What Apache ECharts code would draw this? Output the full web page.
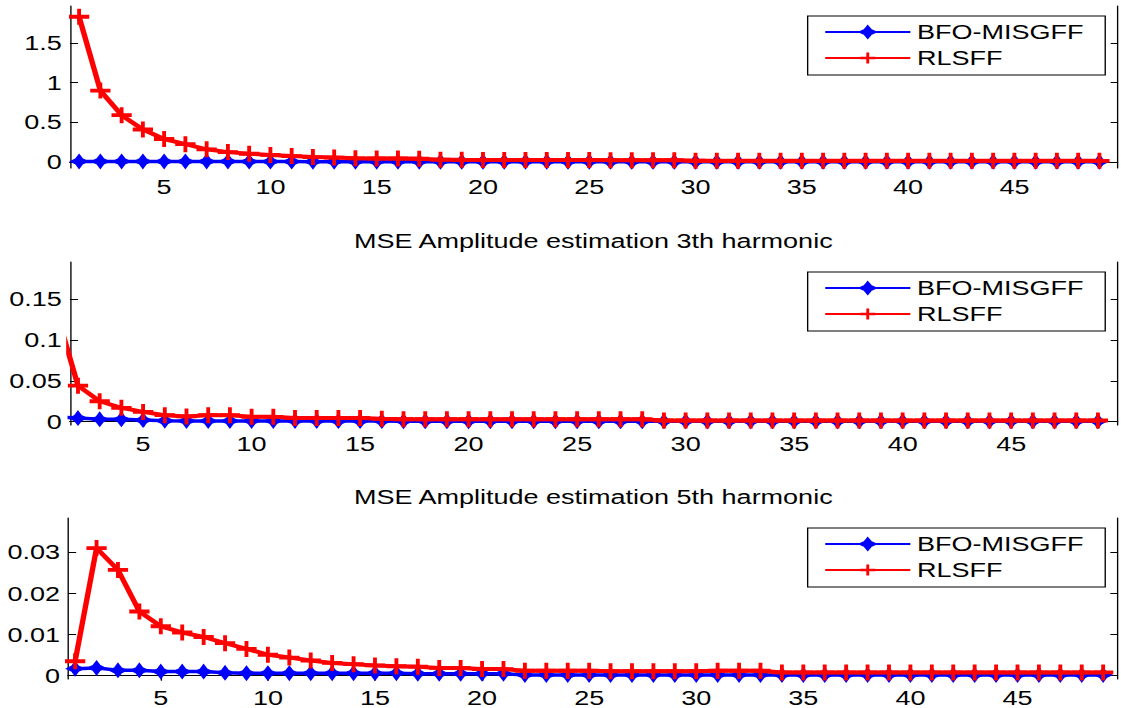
<!DOCTYPE html>
<html>
<head>
<meta charset="utf-8">
<script src="https://cdn.jsdelivr.net/npm/echarts@6/dist/echarts.min.js"></script>
<style>
  html, body { margin: 0; padding: 0; background: #fff; overflow: hidden; }
  /* The figure is laid out on a narrower canvas and stretched horizontally,
     as the exported figure is wider than it was drawn. */
  #chart { width: 830px; height: 708px; transform: scaleX(1.3506); transform-origin: 0 0; }
</style>
</head>
<body>
<div id="chart"></div>
<script>
// Iteration index of each estimate
const iterations = [1, 2, 3, 4, 5, 6, 7, 8, 9, 10, 11, 12, 13, 14, 15, 16, 17, 18, 19, 20,
  21, 22, 23, 24, 25, 26, 27, 28, 29, 30, 31, 32, 33, 34, 35, 36, 37, 38, 39, 40,
  41, 42, 43, 44, 45, 46, 47, 48, 49];

const seriesNames = ['BFO-MISGFF', 'RLSFF'];
const panelTitles = ['', 'MSE Amplitude estimation 3th harmonic', 'MSE Amplitude estimation 5th harmonic'];

// Fundamental
const fundBFO = [0.008, 0.008, 0.008, 0.008, 0.008, 0.007, 0.007, 0.007, 0.006, 0.006,
  0.006, 0.005, 0.005, 0.005, 0.005, 0.004, 0.004, 0.004, 0.004, 0.004,
  0.004, 0.004, 0.004, 0.004, 0.004, 0.003, 0.003, 0.003, 0.003, 0.003,
  0.003, 0.003, 0.003, 0.003, 0.003, 0.003, 0.003, 0.003, 0.003, 0.003,
  0.003, 0.003, 0.003, 0.003, 0.003, 0.003, 0.003, 0.003, 0.003];
const fundRLS = [1.83, 0.90, 0.59, 0.41, 0.29, 0.225, 0.16, 0.125, 0.105, 0.09,
  0.075, 0.062, 0.056, 0.047, 0.045, 0.045, 0.042, 0.03, 0.028, 0.027,
  0.026, 0.026, 0.025, 0.025, 0.025, 0.024, 0.024, 0.024, 0.024, 0.016,
  0.015, 0.015, 0.015, 0.015, 0.015, 0.015, 0.015, 0.015, 0.015, 0.015,
  0.015, 0.015, 0.015, 0.015, 0.015, 0.015, 0.015, 0.015, 0.015];

// 3rd harmonic
const h3BFO = [0.006, 0.0045, 0.003, 0.003, 0.002, 0.0012, 0.001, 0.001, 0.001, 0.001,
  0.001, 0.0009, 0.0009, 0.0008, 0.0008, 0.0008, 0.0007, 0.0007, 0.0007, 0.0007,
  0.0006, 0.0006, 0.0006, 0.0006, 0.0006, 0.0005, 0.0005, 0.0005, 0.0005, 0.0005,
  0.0005, 0.0005, 0.0005, 0.0005, 0.0005, 0.0005, 0.0005, 0.0005, 0.0005, 0.0005,
  0.0005, 0.0005, 0.0005, 0.0005, 0.0005, 0.0005, 0.0005, 0.0005, 0.0005];
const h3RLS = [0.135, 0.044, 0.025, 0.017, 0.012, 0.008, 0.0065, 0.008, 0.008, 0.006,
  0.006, 0.0045, 0.0045, 0.0045, 0.0045, 0.0035, 0.003, 0.003, 0.003, 0.003,
  0.003, 0.003, 0.003, 0.003, 0.003, 0.003, 0.003, 0.003, 0.0015, 0.0015,
  0.0015, 0.0015, 0.0015, 0.0015, 0.0015, 0.0015, 0.0015, 0.0015, 0.0015, 0.0015,
  0.0015, 0.0015, 0.0015, 0.0015, 0.0015, 0.0015, 0.0015, 0.0015, 0.0015];

// 5th harmonic
const h5BFO = [0.0017, 0.0019, 0.0013, 0.0013, 0.001, 0.001, 0.001, 0.0007, 0.0006, 0.0006,
  0.0006, 0.0006, 0.0006, 0.0006, 0.0006, 0.0006, 0.0005, 0.0005, 0.0005, 0.0005,
  0.0005, 0.0002, 0.0002, 0.0002, 0.0002, 0.0002, 0.0002, 0.0002, 0.0002, 0.0002,
  0.0002, 0.0002, 0.0002, 0.0002, 0.0002, 0.0002, 0.0002, 0.0002, 0.0002, 0.0002,
  0.0002, 0.0002, 0.0002, 0.0002, 0.0002, 0.0002, 0.0002, 0.0002, 0.0002];
const h5RLS = [0.0035, 0.031, 0.0257, 0.0156, 0.012, 0.0105, 0.0094, 0.0079, 0.0065, 0.0051,
  0.0044, 0.0037, 0.0031, 0.0028, 0.0025, 0.0023, 0.0022, 0.0019, 0.0019, 0.0016,
  0.0016, 0.0012, 0.0012, 0.0012, 0.0012, 0.0011, 0.0011, 0.0011, 0.0011, 0.0011,
  0.0012, 0.0012, 0.0012, 0.0008, 0.0008, 0.0008, 0.0008, 0.0008, 0.0008, 0.0008,
  0.0008, 0.0008, 0.0008, 0.0008, 0.0008, 0.0008, 0.0008, 0.0008, 0.0008];

// Tick labels
const xTicks = [5, 10, 15, 20, 25, 30, 35, 40, 45];
const yTicksFund = [0, 0.5, 1, 1.5];
const yTicksH3 = [0, 0.05, 0.1, 0.15];
const yTicksH5 = [0, 0.01, 0.02, 0.03];

// Axis limits of each panel
const xLimits = [[0.57, 49.85], [1.63, 49.9], [0.67, 49.65]];
const yLimits = [[-0.075, 1.965], [-0.004, 0.195], [-0.0008, 0.0383]];

const panelData = [[fundBFO, fundRLS], [h3BFO, h3RLS], [h5BFO, h5RLS]];
const panelTicks = [yTicksFund, yTicksH3, yTicksH5];

const FONT = '"Liberation Sans", Arial, sans-serif';
const BLUE = '#0000ff';
const RED = '#ff0000';
// thick "+" marker and filled "*" marker
const PLUS = 'path://M-0.19,-1 L0.19,-1 L0.19,-0.24 L1,-0.24 L1,0.24 L0.19,0.24 L0.19,1 L-0.19,1 L-0.19,0.24 L-1,0.24 L-1,-0.24 L-0.19,-0.24 Z';
const STAR = 'path://M0,-1 L0.38,-0.38 L1,0 L0.38,0.38 L0,1 L-0.38,0.38 L-1,0 L-0.38,-0.38 Z';

const grids = [
  { left: 51.8, right: 2.6, top: 6, height: 162 },
  { left: 51.8, right: 2.6, top: 262, height: 163 },
  { left: 50.4, right: 2.9, top: 518, height: 164 }
];
const legendTops = [16, 272, 528];
const titleTops = [0, 231, 487];

const frameLine = { show: true, lineStyle: { color: '#000', width: 1 } };
const tickStyle = { color: '#000', width: 1 };

const xAxis = [], yAxis = [], series = [], legend = [], title = [];

grids.forEach((g, i) => {
  const [xmin, xmax] = xLimits[i];
  const [ymin, ymax] = yLimits[i];
  // bottom axis with labels
  xAxis.push({
    type: 'value', gridIndex: i, position: 'bottom', min: xmin, max: xmax,
    axisLine: frameLine, splitLine: { show: false },
    axisTick: { show: true, inside: true, length: 5, lineStyle: tickStyle, customValues: xTicks },
    axisLabel: { show: true, customValues: xTicks, color: '#000', fontSize: 20, fontFamily: FONT, margin: 9 }
  });
  // top frame edge
  xAxis.push({
    type: 'value', gridIndex: i, position: 'top', min: xmin, max: xmax,
    axisLine: frameLine, splitLine: { show: false },
    axisTick: { show: true, inside: true, length: 5, lineStyle: tickStyle, customValues: xTicks },
    axisLabel: { show: false }
  });
  // left axis with labels
  yAxis.push({
    type: 'value', gridIndex: i, position: 'left', min: ymin, max: ymax,
    axisLine: frameLine, splitLine: { show: false },
    axisTick: { show: true, inside: true, length: 6, lineStyle: tickStyle, customValues: panelTicks[i] },
    axisLabel: { show: true, customValues: panelTicks[i], color: '#000', fontSize: 20, fontFamily: FONT, margin: 6 }
  });
  // right frame edge
  yAxis.push({
    type: 'value', gridIndex: i, position: 'right', min: ymin, max: ymax,
    axisLine: frameLine, splitLine: { show: false },
    axisTick: { show: true, inside: true, length: 5, lineStyle: tickStyle, customValues: panelTicks[i] },
    axisLabel: { show: false }
  });

  const [bfo, rls] = panelData[i];
  series.push({
    name: seriesNames[0], type: 'line', xAxisIndex: 2 * i, yAxisIndex: 2 * i,
    data: iterations.map((x, k) => [x, bfo[k]]),
    symbol: STAR, symbolSize: [12, 13], showSymbol: true, clip: true,
    lineStyle: { color: BLUE, width: 3.5 },
    itemStyle: { color: BLUE, borderColor: BLUE, borderWidth: 1.5 },
    z: 2
  });
  series.push({
    name: seriesNames[1], type: 'line', xAxisIndex: 2 * i, yAxisIndex: 2 * i,
    data: iterations.map((x, k) => [x, rls[k]]),
    symbol: PLUS, symbolSize: [15, 16], showSymbol: true, clip: true,
    lineStyle: { color: RED, width: 4 },
    itemStyle: { color: RED },
    z: 3
  });

  legend.push({
    data: seriesNames, orient: 'vertical', left: 598, top: legendTops[i],
    backgroundColor: '#fff', borderColor: '#000', borderWidth: 1, borderRadius: 0,
    padding: [6, 16, 7, 12], itemWidth: 63, itemHeight: 14, itemGap: 6,
    selectedMode: false,
    textStyle: { color: '#000', fontSize: 20, fontFamily: FONT, lineHeight: 20 }
  });

  if (panelTitles[i]) {
    title.push({
      text: panelTitles[i], left: 439.3, top: titleTops[i], textAlign: 'center', padding: 0,
      textStyle: { color: '#000', fontSize: 20, fontWeight: 'normal', fontFamily: FONT }
    });
  }
});

const chart = echarts.init(document.getElementById('chart'), null, { renderer: 'svg' });
chart.setOption({
  animation: false,
  backgroundColor: '#fff',
  title: title,
  legend: legend,
  grid: grids,
  xAxis: xAxis,
  yAxis: yAxis,
  series: series
});
</script>
</body>
</html>
